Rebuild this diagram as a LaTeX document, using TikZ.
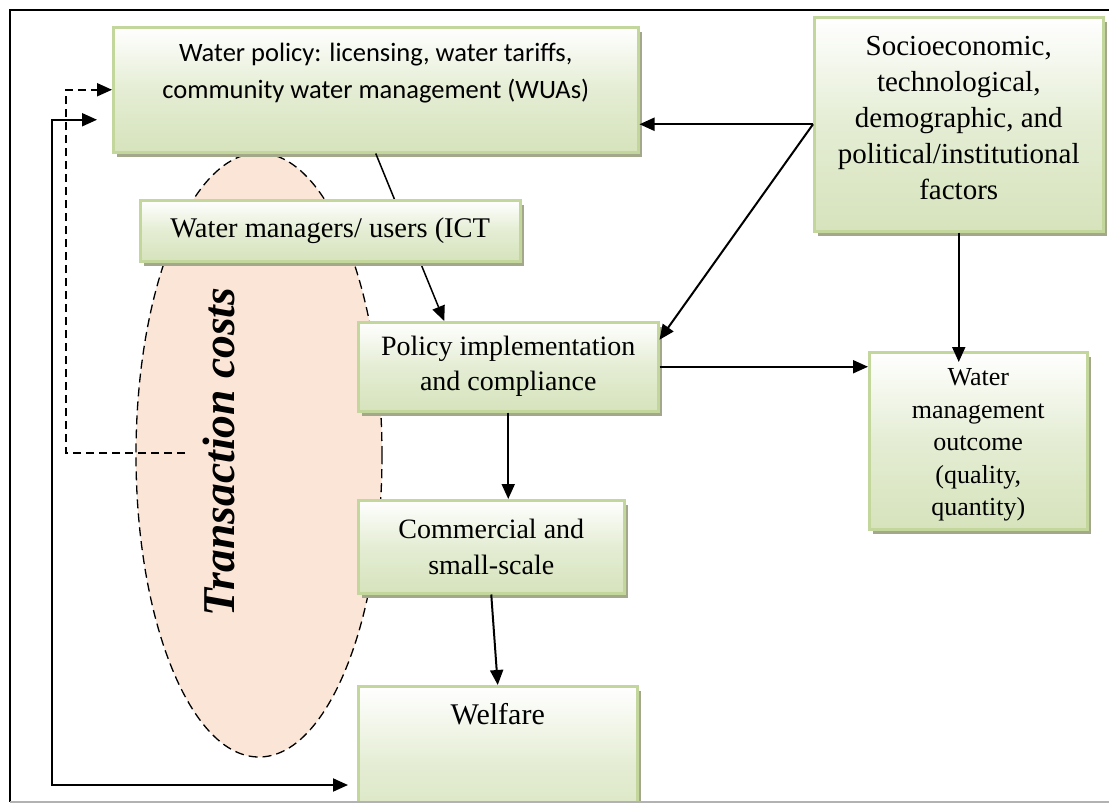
\documentclass[tikz,border=0pt]{standalone}
\usepackage{fontspec}
\setmainfont{Liberation Serif}
\newfontfamily\calibri{Carlito}
\usepackage{tikz}
\usetikzlibrary{shapes.geometric, arrows.meta, shadows, calc}
\definecolor{boxgreen}{RGB}{214,227,188}
\definecolor{boxline}{RGB}{195,214,155}
\definecolor{boxshadow}{RGB}{163,168,138}
\definecolor{peach}{RGB}{251,229,214}
\tikzstyle{box} = [rectangle, draw=boxline, line width=2.5pt, top color=white, bottom color=boxgreen, middle color=boxgreen!65!white, general shadow={fill=boxshadow, shadow xshift=4pt, shadow yshift=-5pt}, text centered, align=center, anchor=north west, inner sep=0pt]
\tikzstyle{cost} = [ellipse, draw, line width=1.3pt, dash pattern=on 9pt off 5pt, fill=peach]
\tikzstyle{connector} = [draw, line width=2pt, ->]

\begin{document}
        \begin{tikzpicture}[x=1pt, y=-1pt, >={Triangle[length=15pt, width=13pt]}]
            \useasboundingbox (0,0) rectangle (1109,803);
            \clip (0,0) rectangle (1109,803);

            \node[cost, minimum width=246pt, minimum height=604pt] (tc_area) at (259,455) {};
            \node[rotate=90, font=\fontsize{45.5}{50}\selectfont\bfseries\itshape] (tc_text) at (219,452) {Transaction costs};
            \coordinate (tc_foot) at (185,453);

            \node[box, minimum width=525pt, minimum height=125pt, font=\calibri\fontsize{26.5}{37}\selectfont] (water_policy) at (112,26) {Water policy: licensing, water tariffs,\\community water management (WUAs)\\\mbox{}};
            \node[box, minimum width=289pt, minimum height=214pt, font=\fontsize{29}{36}\selectfont] (factors) at (813,16) {Socioeconomic,\\technological,\\demographic, and\\political/institutional\\factors\\[-23pt]\mbox{}};
            \node[box, minimum width=300pt, minimum height=89pt, font=\fontsize{28}{35}\selectfont] (implement) at (357,321) {Policy implementation\\and compliance};
            \node[box, minimum width=266pt, minimum height=93pt, font=\fontsize{28}{36}\selectfont] (commercial) at (357,499) {Commercial and\\small-scale};
            \node[box, minimum width=218pt, minimum height=177pt, font=\fontsize{26}{32.5}\selectfont] (outcome) at (868,351) {\mbox{}\\[-7.3pt]Water\\management\\outcome\\(quality,\\quantity)};
            \node[box, minimum width=279pt, text height=38pt, text depth=120pt, font=\fontsize{30}{36}\selectfont] (welfare) at (357,685) {Welfare};

            \draw[connector, line width=1.5pt] (water_policy.south) -- ([xshift=-64pt]implement.north);
            \node[box, minimum width=380pt, minimum height=61pt, font=\fontsize{28.5}{34}\selectfont] (managers) at (139,199) {Water managers/ users (ICT};

            \draw[connector] (factors.west) -- (factors.west -| water_policy.east);
            \draw[connector] (factors.west) -- ([yshift=27pt]implement.east);
            \draw[connector] (factors.south) -- ($(factors.south |- outcome.north)+(0,11)$);
            \draw[connector] (implement.east) -- (implement.east -| outcome.west);
            \draw[connector] (implement.south) -- (implement.south |- commercial.north);
            \draw[connector] (commercial.south) -- (welfare.north);
            \draw[connector, dash pattern=on 8pt off 5pt] (tc_foot) -- ++(-119,0) |- (water_policy.west);
            \draw[connector, <->] ([shift={(-15,30)}]water_policy.west) -- ++(-45,0) |- ([shift={(-9,100)}]welfare.north west);

            \draw[line width=1.6pt] (1109,10) -- (10,10) -- (10,802);
            \draw[line width=1.3pt, gray!60] (10,802) -- (1109,802);
        \end{tikzpicture}
\end{document}
